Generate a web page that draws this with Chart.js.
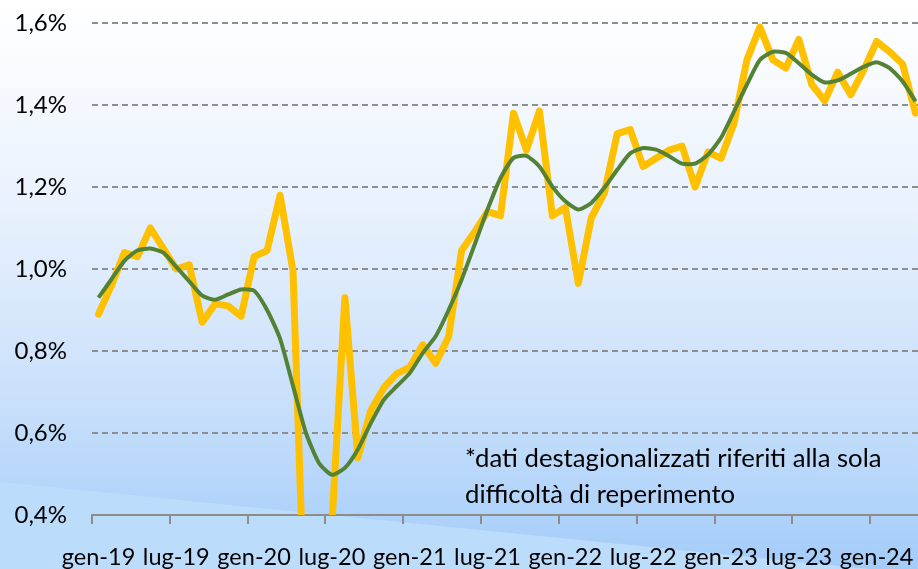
<!DOCTYPE html>
<html>
<head>
<meta charset="utf-8">
<script src="https://cdn.jsdelivr.net/npm/chart.js@4"></script>
<style>
  html, body { margin: 0; padding: 0; overflow: hidden; background: #fff; }
  #wrap { position: relative; width: 922px; height: 569px; }
</style>
</head>
<body>
<div id="wrap"><canvas id="lineChart"></canvas></div>
<script>
// mesi (gen-19 .. apr-24)
const mesi = [
  "gen-19","feb-19","mar-19","apr-19","mag-19","giu-19","lug-19","ago-19","set-19","ott-19","nov-19","dic-19",
  "gen-20","feb-20","mar-20","apr-20","mag-20","giu-20","lug-20","ago-20","set-20","ott-20","nov-20","dic-20",
  "gen-21","feb-21","mar-21","apr-21","mag-21","giu-21","lug-21","ago-21","set-21","ott-21","nov-21","dic-21",
  "gen-22","feb-22","mar-22","apr-22","mag-22","giu-22","lug-22","ago-22","set-22","ott-22","nov-22","dic-22",
  "gen-23","feb-23","mar-23","apr-23","mag-23","giu-23","lug-23","ago-23","set-23","ott-23","nov-23","dic-23",
  "gen-24","feb-24","mar-24","apr-24"
];

// serie mensile destagionalizzata (gialla)
const destagionalizzati = [
  0.89, 0.96, 1.04, 1.03, 1.10, 1.05, 1.00, 1.01, 0.87, 0.915, 0.91, 0.885,
  1.03, 1.045, 1.18, 0.995, 0.05, 0.10, 0.38, 0.93, 0.54, 0.655, 0.71, 0.745,
  0.76, 0.815, 0.77, 0.835, 1.045, 1.09, 1.14, 1.13, 1.38, 1.29, 1.385, 1.13,
  1.15, 0.965, 1.125, 1.185, 1.33, 1.34, 1.25, 1.27, 1.29, 1.30, 1.20, 1.285,
  1.27, 1.355, 1.51, 1.59, 1.51, 1.49, 1.56, 1.45, 1.41, 1.48, 1.425, 1.485,
  1.555, 1.53, 1.50, 1.38
];

// media mobile (verde)
const mediaMobile = [
  0.93, 0.975, 1.02, 1.045, 1.05, 1.04, 1.005, 0.97, 0.935, 0.925, 0.938, 0.95,
  0.947, 0.90, 0.83, 0.715, 0.60, 0.527, 0.498, 0.515, 0.56, 0.624, 0.681, 0.714,
  0.746, 0.795, 0.836, 0.90, 0.974, 1.059, 1.145, 1.222, 1.271, 1.276, 1.25, 1.201,
  1.165, 1.145, 1.161, 1.198, 1.242, 1.282, 1.295, 1.291, 1.275, 1.257, 1.257, 1.279,
  1.32, 1.384, 1.45, 1.51, 1.53, 1.527, 1.502, 1.474, 1.455, 1.46, 1.476, 1.493,
  1.504, 1.49, 1.458, 1.409
];

const nota = ["*dati destagionalizzati riferiti alla sola", "difficoltà di reperimento"];

const FONT = "Lato, 'Open Sans', sans-serif";

// sfondo sfumato
const sfondo = {
  id: "sfondo",
  beforeDraw(chart) {
    const { ctx, width, height } = chart;
    ctx.save();
    const g = ctx.createLinearGradient(0, 0, 0, height);
    g.addColorStop(0, "#ffffff");
    g.addColorStop(0.35, "#eaf2fd");
    g.addColorStop(0.7, "#c9e0fb");
    g.addColorStop(1, "#a3ccf9");
    ctx.fillStyle = g;
    ctx.fillRect(0, 0, width, height);
    ctx.beginPath();
    ctx.moveTo(0, 482);
    ctx.lineTo(870, height);
    ctx.lineTo(0, height);
    ctx.closePath();
    ctx.fillStyle = "#bcdcfb";
    ctx.fill();
    ctx.restore();
  },
};

// nota in basso a destra
const notaPlugin = {
  id: "nota",
  afterDraw(chart) {
    const { ctx } = chart;
    ctx.save();
    ctx.font = "25.7px " + FONT;
    ctx.fillStyle = "#000";
    ctx.textBaseline = "alphabetic";
    ctx.fillText(nota[0], 465, 467);
    ctx.fillText(nota[1], 465, 503);
    ctx.restore();
  },
};

new Chart(document.getElementById("lineChart"), {
  type: "line",
  data: {
    labels: mesi,
    datasets: [
      {
        label: "media mobile",
        data: mediaMobile,
        borderColor: "#548235",
        borderWidth: 4,
        pointRadius: 0,
        tension: 0.2,
        borderJoinStyle: "round",
        order: 1,
      },
      {
        label: "dati destagionalizzati",
        data: destagionalizzati,
        borderColor: "#FFC000",
        borderWidth: 7,
        pointRadius: 0,
        tension: 0,
        borderJoinStyle: "round",
        borderCapStyle: "round",
        clip: { left: 10, top: 10, right: 10, bottom: 0 },
        order: 2,
      },
    ],
  },
  options: {
    responsive: true,
    maintainAspectRatio: false,
    animation: false,
    layout: { padding: { top: 23, left: 0, right: 0, bottom: 0 } },
    plugins: {
      legend: { display: false },
      tooltip: { enabled: false },
    },
    scales: {
      x: {
        offset: true,
        afterFit: (s) => {
          s.height = 54;
          s.paddingLeft = 0;
          s.paddingRight = 0;
        },
        grid: {
          offset: true,
          drawOnChartArea: false,
          drawTicks: true,
          tickLength: 9,
          lineWidth: 2,
          color: (c) => (c.index % 6 === 0 ? "#8c8c8c" : "rgba(0,0,0,0)"),
        },
        border: { display: true, color: "#8c8c8c", width: 2 },
        ticks: {
          autoSkip: false,
          maxRotation: 0,
          minRotation: 0,
          padding: 19,
          color: "#000",
          font: { family: FONT, size: 23.5 },
          callback: (v, i) => (i % 6 === 0 ? mesi[i] : ""),
        },
      },
      y: {
        min: 0.4,
        max: 1.6,
        afterFit: (s) => {
          s.width = 92;
          s.paddingTop = 0;
          s.paddingBottom = 0;
        },
        grid: {
          drawTicks: false,
          lineWidth: 2,
          color: (c) => (c.tick && Math.abs(c.tick.value - 0.4) < 1e-6 ? "rgba(0,0,0,0)" : "#8e8e8e"),
        },
        border: { display: false, dash: [6, 4] },
        ticks: {
          stepSize: 0.2,
          padding: 25,
          color: "#000",
          font: { family: FONT, size: 24 },
          callback: (v) => v.toFixed(1).replace(".", ",") + "%",
        },
      },
    },
  },
  plugins: [sfondo, notaPlugin],
});
</script>
</body>
</html>
